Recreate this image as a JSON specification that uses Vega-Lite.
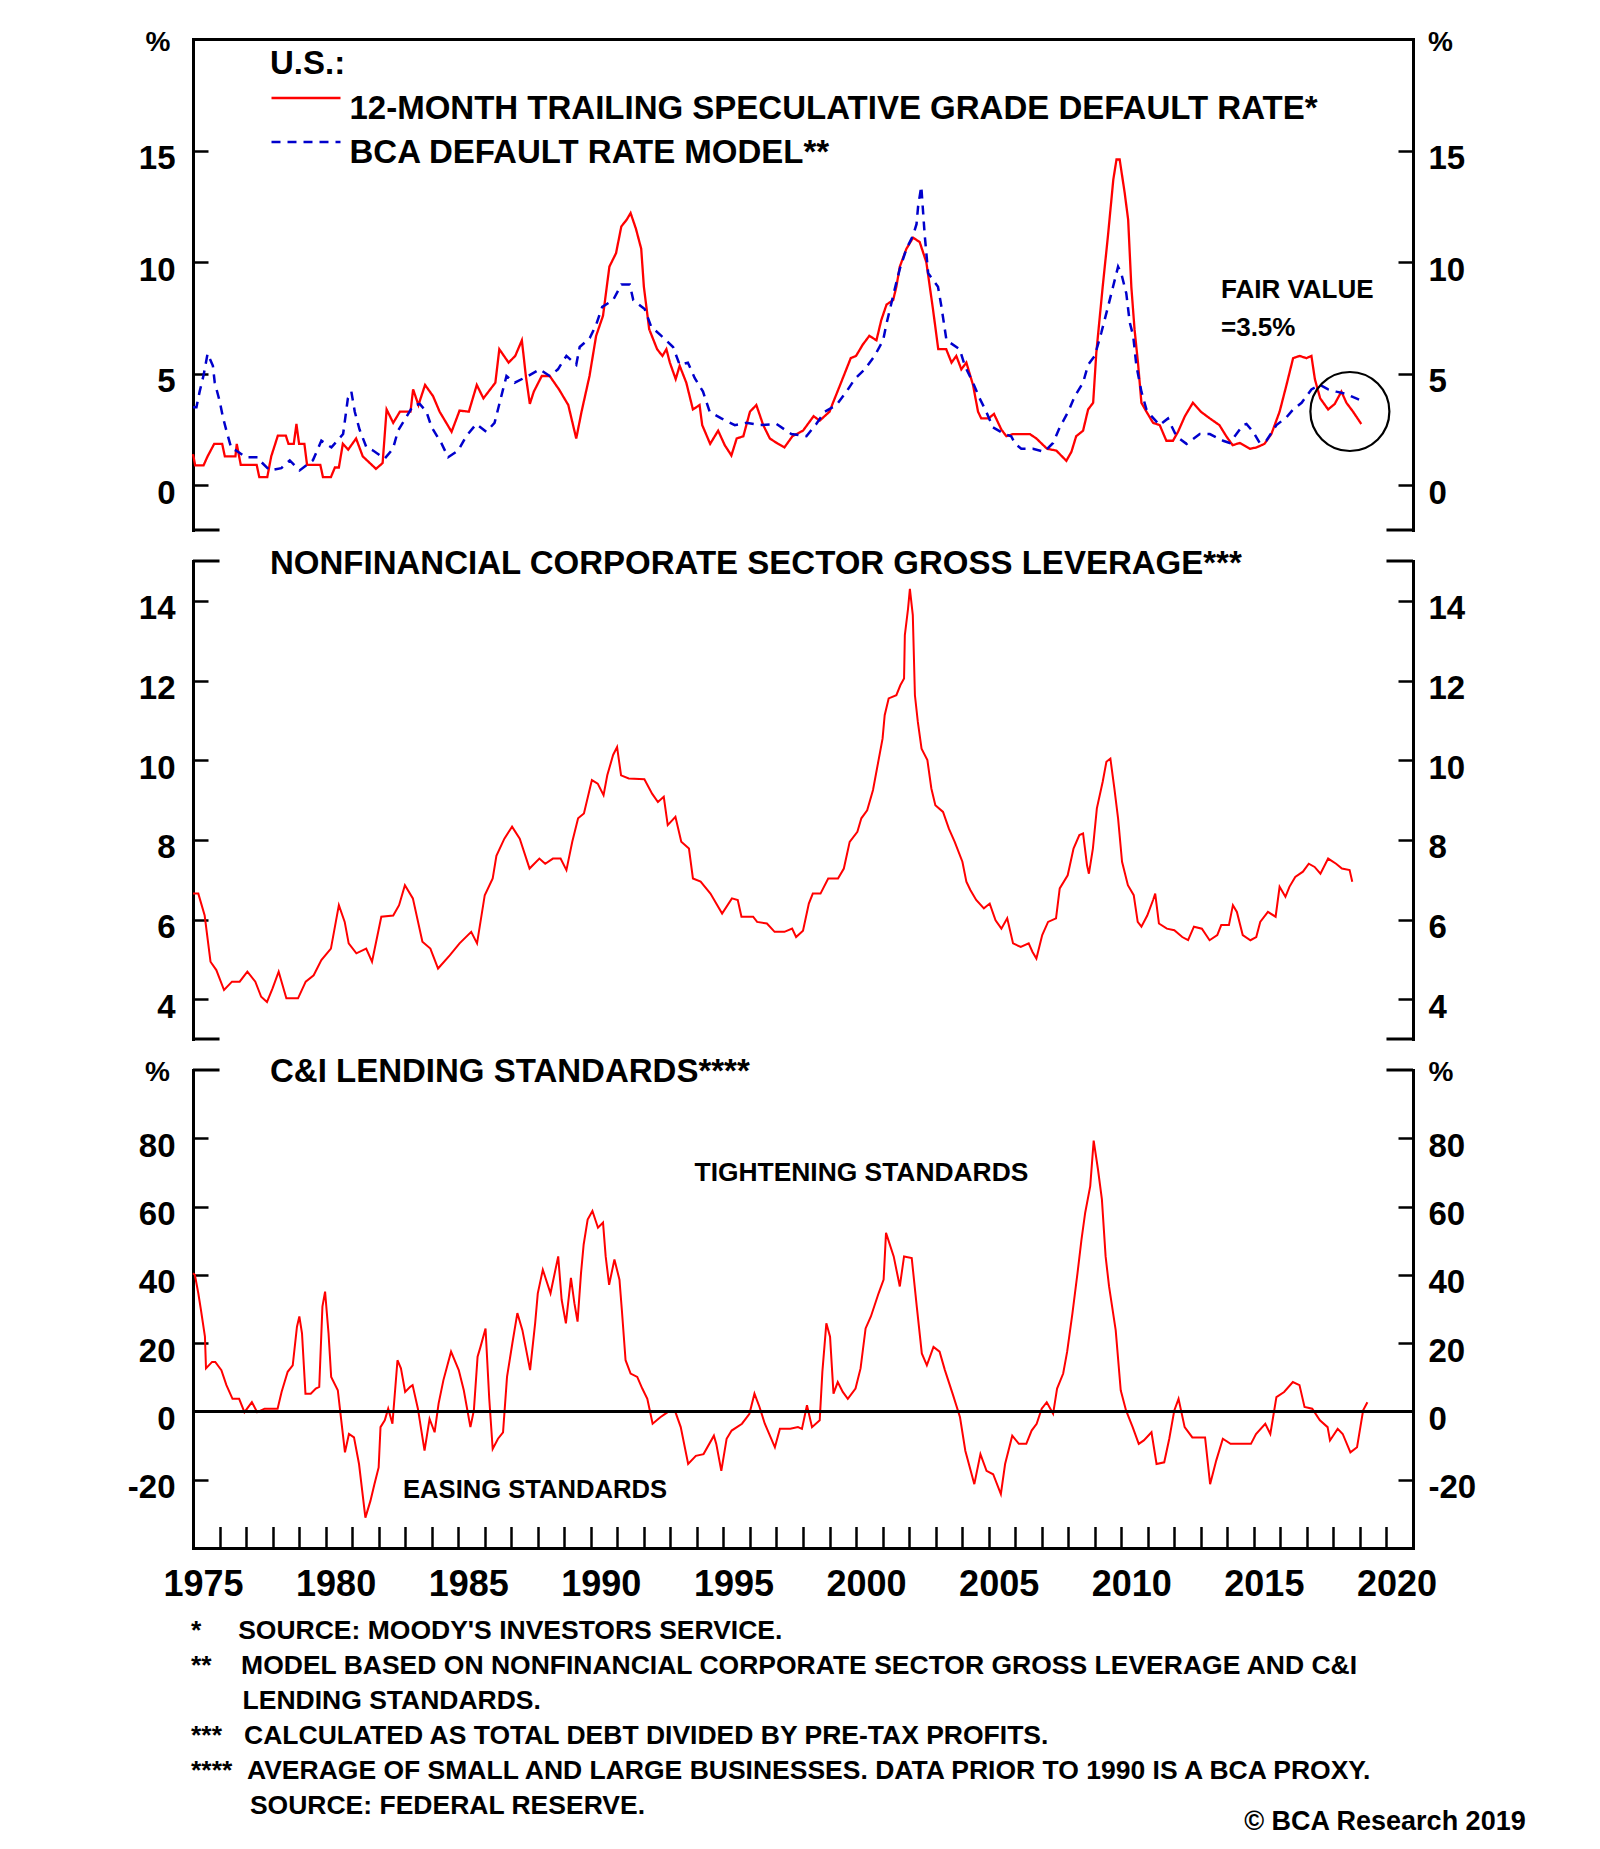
{
  "$schema": "https://vega.github.io/schema/vega-lite/v6.json",
  "background": "white",
  "padding": {"left": 127, "top": 28, "right": 10, "bottom": 5},
  "config": {
    "view": {"stroke": null},
    "font": "Liberation Sans",
    "axis": {"grid": false, "domainColor": "#000000", "tickColor": "#000000", "labelColor": "#000000", "titleColor": "#000000", "labelFont": "Liberation Sans", "titleFont": "Liberation Sans", "labelFontWeight": "bold", "titleFontWeight": "bold", "domainWidth": 3, "tickWidth": 2.5, "domainCap": "square"},
    "title": {"font": "Liberation Sans", "fontWeight": "bold", "color": "#000000"},
    "text": {"font": "Liberation Sans", "fontWeight": "bold", "color": "#000000"}
  },
  "datasets": {
    "rate": [
      {"t":1975.0,"v":1.4},{"t":1975.08,"v":0.9},{"t":1975.4,"v":0.9},{"t":1975.55,"v":1.3},{"t":1975.8,"v":1.86},{"t":1976.1,"v":1.86},{"t":1976.2,"v":1.3},{"t":1976.6,"v":1.3},{"t":1976.65,"v":1.86},{"t":1976.8,"v":0.92},{"t":1977.4,"v":0.92},{"t":1977.5,"v":0.37},{"t":1977.8,"v":0.37},{"t":1977.95,"v":1.3},{"t":1978.2,"v":2.23},{"t":1978.5,"v":2.23},{"t":1978.6,"v":1.86},{"t":1978.8,"v":1.86},{"t":1978.9,"v":2.75},{"t":1979.0,"v":1.86},{"t":1979.2,"v":1.86},{"t":1979.3,"v":0.92},{"t":1979.8,"v":0.92},{"t":1979.9,"v":0.37},{"t":1980.2,"v":0.37},{"t":1980.35,"v":0.8},{"t":1980.5,"v":0.8},{"t":1980.65,"v":1.86},{"t":1980.85,"v":1.6},{"t":1981.15,"v":2.1},{"t":1981.4,"v":1.3},{"t":1981.9,"v":0.74},{"t":1982.15,"v":1.0},{"t":1982.3,"v":3.4},{"t":1982.55,"v":2.8},{"t":1982.8,"v":3.3},{"t":1983.2,"v":3.3},{"t":1983.3,"v":4.3},{"t":1983.5,"v":3.6},{"t":1983.75,"v":4.5},{"t":1984.05,"v":4.0},{"t":1984.3,"v":3.3},{"t":1984.75,"v":2.4},{"t":1985.05,"v":3.35},{"t":1985.4,"v":3.3},{"t":1985.7,"v":4.5},{"t":1985.95,"v":3.9},{"t":1986.4,"v":4.6},{"t":1986.55,"v":6.1},{"t":1986.9,"v":5.5},{"t":1987.15,"v":5.8},{"t":1987.4,"v":6.5},{"t":1987.55,"v":4.9},{"t":1987.7,"v":3.65},{"t":1987.85,"v":4.2},{"t":1988.15,"v":4.9},{"t":1988.45,"v":4.9},{"t":1988.8,"v":4.3},{"t":1989.15,"v":3.6},{"t":1989.45,"v":2.1},{"t":1989.65,"v":3.3},{"t":1989.95,"v":4.9},{"t":1990.2,"v":6.7},{"t":1990.46,"v":7.6},{"t":1990.7,"v":9.8},{"t":1990.95,"v":10.4},{"t":1991.15,"v":11.6},{"t":1991.35,"v":11.9},{"t":1991.5,"v":12.2},{"t":1991.7,"v":11.5},{"t":1991.9,"v":10.6},{"t":1992.0,"v":8.9},{"t":1992.2,"v":7.0},{"t":1992.5,"v":6.1},{"t":1992.7,"v":5.8},{"t":1992.85,"v":6.1},{"t":1992.98,"v":5.5},{"t":1993.2,"v":4.76},{"t":1993.35,"v":5.36},{"t":1993.6,"v":4.6},{"t":1993.85,"v":3.4},{"t":1994.1,"v":3.6},{"t":1994.2,"v":2.7},{"t":1994.5,"v":1.86},{"t":1994.8,"v":2.45},{"t":1995.05,"v":1.8},{"t":1995.3,"v":1.34},{"t":1995.5,"v":2.1},{"t":1995.75,"v":2.2},{"t":1996.0,"v":3.3},{"t":1996.24,"v":3.6},{"t":1996.5,"v":2.7},{"t":1996.75,"v":2.1},{"t":1997.06,"v":1.86},{"t":1997.3,"v":1.7},{"t":1997.6,"v":2.2},{"t":1998.0,"v":2.45},{"t":1998.4,"v":3.1},{"t":1998.63,"v":2.9},{"t":1999.0,"v":3.3},{"t":1999.13,"v":3.7},{"t":1999.4,"v":4.5},{"t":1999.8,"v":5.7},{"t":2000.0,"v":5.8},{"t":2000.25,"v":6.3},{"t":2000.5,"v":6.7},{"t":2000.77,"v":6.5},{"t":2000.95,"v":7.4},{"t":2001.15,"v":8.1},{"t":2001.4,"v":8.3},{"t":2001.52,"v":8.9},{"t":2001.65,"v":9.8},{"t":2001.9,"v":10.6},{"t":2002.15,"v":11.1},{"t":2002.4,"v":10.9},{"t":2002.65,"v":10.0},{"t":2002.9,"v":7.9},{"t":2003.1,"v":6.1},{"t":2003.4,"v":6.1},{"t":2003.6,"v":5.5},{"t":2003.78,"v":5.8},{"t":2003.97,"v":5.2},{"t":2004.16,"v":5.5},{"t":2004.41,"v":4.5},{"t":2004.6,"v":3.3},{"t":2004.72,"v":3.0},{"t":2005.0,"v":3.0},{"t":2005.2,"v":3.2},{"t":2005.48,"v":2.5},{"t":2005.67,"v":2.2},{"t":2005.92,"v":2.3},{"t":2006.55,"v":2.3},{"t":2006.8,"v":2.1},{"t":2007.2,"v":1.64},{"t":2007.55,"v":1.56},{"t":2007.93,"v":1.1},{"t":2008.12,"v":1.5},{"t":2008.3,"v":2.2},{"t":2008.56,"v":2.45},{"t":2008.75,"v":3.4},{"t":2008.94,"v":3.7},{"t":2009.06,"v":5.95},{"t":2009.3,"v":8.9},{"t":2009.5,"v":11.2},{"t":2009.7,"v":13.7},{"t":2009.82,"v":14.6},{"t":2009.94,"v":14.6},{"t":2010.13,"v":13.1},{"t":2010.26,"v":11.9},{"t":2010.38,"v":8.9},{"t":2010.5,"v":7.0},{"t":2010.63,"v":5.5},{"t":2010.76,"v":3.7},{"t":2010.95,"v":3.3},{"t":2011.2,"v":2.8},{"t":2011.45,"v":2.7},{"t":2011.7,"v":2.0},{"t":2011.95,"v":2.0},{"t":2012.14,"v":2.4},{"t":2012.4,"v":3.1},{"t":2012.7,"v":3.7},{"t":2013.0,"v":3.3},{"t":2013.34,"v":3.0},{"t":2013.7,"v":2.7},{"t":2013.96,"v":2.2},{"t":2014.2,"v":1.8},{"t":2014.47,"v":1.9},{"t":2014.85,"v":1.64},{"t":2015.1,"v":1.7},{"t":2015.4,"v":1.86},{"t":2015.66,"v":2.3},{"t":2015.97,"v":3.3},{"t":2016.23,"v":4.5},{"t":2016.48,"v":5.7},{"t":2016.73,"v":5.8},{"t":2016.98,"v":5.7},{"t":2017.17,"v":5.8},{"t":2017.3,"v":4.76},{"t":2017.5,"v":3.9},{"t":2017.8,"v":3.4},{"t":2018.05,"v":3.65},{"t":2018.3,"v":4.2},{"t":2018.49,"v":3.7},{"t":2018.74,"v":3.3},{"t":2019.05,"v":2.75}
    ],
    "model": [
      {"t":1975.0,"v":3.5},{"t":1975.13,"v":3.5},{"t":1975.25,"v":4.2},{"t":1975.4,"v":4.94},{"t":1975.55,"v":5.9},{"t":1975.75,"v":5.36},{"t":1975.82,"v":4.6},{"t":1976.0,"v":3.8},{"t":1976.13,"v":3.05},{"t":1976.26,"v":2.45},{"t":1976.45,"v":1.64},{"t":1976.63,"v":1.56},{"t":1976.9,"v":1.34},{"t":1977.0,"v":1.26},{"t":1977.45,"v":1.26},{"t":1977.58,"v":1.04},{"t":1977.9,"v":0.67},{"t":1978.33,"v":0.77},{"t":1978.65,"v":1.12},{"t":1979.02,"v":0.67},{"t":1979.52,"v":1.12},{"t":1979.84,"v":2.0},{"t":1980.22,"v":1.7},{"t":1980.66,"v":2.3},{"t":1980.84,"v":3.9},{"t":1980.97,"v":4.2},{"t":1981.1,"v":3.3},{"t":1981.28,"v":2.5},{"t":1981.54,"v":1.7},{"t":1981.79,"v":1.56},{"t":1982.23,"v":1.2},{"t":1982.54,"v":1.64},{"t":1982.73,"v":2.45},{"t":1983.04,"v":3.05},{"t":1983.3,"v":3.57},{"t":1983.55,"v":3.65},{"t":1983.8,"v":3.3},{"t":1984.0,"v":2.6},{"t":1984.36,"v":1.9},{"t":1984.62,"v":1.26},{"t":1985.0,"v":1.56},{"t":1985.3,"v":2.2},{"t":1985.68,"v":2.75},{"t":1986.06,"v":2.4},{"t":1986.37,"v":2.8},{"t":1986.69,"v":4.3},{"t":1986.82,"v":4.9},{"t":1987.13,"v":4.6},{"t":1987.63,"v":4.9},{"t":1988.07,"v":5.2},{"t":1988.45,"v":4.9},{"t":1988.76,"v":5.2},{"t":1989.08,"v":5.8},{"t":1989.45,"v":5.4},{"t":1989.58,"v":6.2},{"t":1989.96,"v":6.6},{"t":1990.2,"v":7.2},{"t":1990.43,"v":8.0},{"t":1990.84,"v":8.3},{"t":1991.15,"v":9.0},{"t":1991.47,"v":9.0},{"t":1991.6,"v":8.3},{"t":1992.03,"v":7.9},{"t":1992.28,"v":7.1},{"t":1992.66,"v":6.7},{"t":1993.1,"v":6.2},{"t":1993.35,"v":5.4},{"t":1993.66,"v":5.5},{"t":1993.92,"v":4.8},{"t":1994.23,"v":4.2},{"t":1994.48,"v":3.3},{"t":1994.92,"v":3.0},{"t":1995.43,"v":2.7},{"t":1995.86,"v":2.8},{"t":1996.37,"v":2.7},{"t":1997.0,"v":2.75},{"t":1997.56,"v":2.3},{"t":1998.13,"v":2.2},{"t":1998.5,"v":2.75},{"t":1998.82,"v":3.3},{"t":1999.26,"v":3.6},{"t":1999.64,"v":4.2},{"t":1999.95,"v":4.76},{"t":2000.33,"v":5.2},{"t":2000.7,"v":5.8},{"t":2001.02,"v":6.5},{"t":2001.14,"v":7.2},{"t":2001.46,"v":8.8},{"t":2001.65,"v":9.7},{"t":2001.9,"v":10.6},{"t":2002.15,"v":11.2},{"t":2002.28,"v":11.7},{"t":2002.34,"v":12.5},{"t":2002.46,"v":13.4},{"t":2002.59,"v":11.2},{"t":2002.72,"v":9.5},{"t":2003.09,"v":8.9},{"t":2003.22,"v":8.0},{"t":2003.41,"v":6.5},{"t":2003.91,"v":6.1},{"t":2004.1,"v":5.36},{"t":2004.41,"v":4.6},{"t":2004.66,"v":3.9},{"t":2004.91,"v":3.3},{"t":2005.16,"v":2.6},{"t":2005.6,"v":2.3},{"t":2005.85,"v":2.2},{"t":2006.0,"v":1.86},{"t":2006.23,"v":1.64},{"t":2006.67,"v":1.64},{"t":2007.1,"v":1.5},{"t":2007.43,"v":1.9},{"t":2007.68,"v":2.6},{"t":2008.0,"v":3.3},{"t":2008.25,"v":4.0},{"t":2008.56,"v":4.6},{"t":2008.75,"v":5.4},{"t":2009.0,"v":5.8},{"t":2009.25,"v":6.85},{"t":2009.5,"v":8.0},{"t":2009.69,"v":8.9},{"t":2009.88,"v":9.8},{"t":2010.0,"v":9.5},{"t":2010.19,"v":8.6},{"t":2010.32,"v":7.3},{"t":2010.45,"v":6.7},{"t":2010.57,"v":5.36},{"t":2010.76,"v":4.2},{"t":2010.95,"v":3.4},{"t":2011.14,"v":3.1},{"t":2011.45,"v":2.7},{"t":2011.76,"v":3.0},{"t":2012.08,"v":2.2},{"t":2012.46,"v":1.86},{"t":2012.96,"v":2.3},{"t":2013.34,"v":2.3},{"t":2013.84,"v":2.0},{"t":2014.09,"v":1.9},{"t":2014.59,"v":2.7},{"t":2014.72,"v":2.75},{"t":2014.97,"v":2.4},{"t":2015.22,"v":1.9},{"t":2015.47,"v":2.0},{"t":2015.85,"v":2.7},{"t":2016.23,"v":3.05},{"t":2016.48,"v":3.4},{"t":2016.8,"v":3.7},{"t":2017.17,"v":4.3},{"t":2017.5,"v":4.5},{"t":2017.8,"v":4.3},{"t":2018.11,"v":4.2},{"t":2018.49,"v":4.1},{"t":2018.75,"v":3.95},{"t":2019.05,"v":3.8}
    ],
    "lev": [
      {"t":1975.0,"v":6.65},{"t":1975.2,"v":6.65},{"t":1975.44,"v":6.1},{"t":1975.66,"v":4.94},{"t":1975.88,"v":4.73},{"t":1976.17,"v":4.23},{"t":1976.47,"v":4.44},{"t":1976.76,"v":4.44},{"t":1977.05,"v":4.69},{"t":1977.35,"v":4.44},{"t":1977.57,"v":4.06},{"t":1977.79,"v":3.93},{"t":1978.0,"v":4.27},{"t":1978.23,"v":4.69},{"t":1978.52,"v":4.02},{"t":1978.96,"v":4.02},{"t":1979.25,"v":4.44},{"t":1979.55,"v":4.6},{"t":1979.84,"v":4.98},{"t":1980.2,"v":5.27},{"t":1980.5,"v":6.36},{"t":1980.72,"v":5.94},{"t":1980.87,"v":5.4},{"t":1981.16,"v":5.15},{"t":1981.53,"v":5.27},{"t":1981.75,"v":4.94},{"t":1982.1,"v":6.07},{"t":1982.55,"v":6.1},{"t":1982.77,"v":6.36},{"t":1982.99,"v":6.86},{"t":1983.29,"v":6.53},{"t":1983.65,"v":5.44},{"t":1983.95,"v":5.27},{"t":1984.24,"v":4.77},{"t":1984.68,"v":5.1},{"t":1985.05,"v":5.4},{"t":1985.49,"v":5.69},{"t":1985.71,"v":5.4},{"t":1986.0,"v":6.61},{"t":1986.3,"v":7.03},{"t":1986.44,"v":7.6},{"t":1986.74,"v":8.03},{"t":1987.03,"v":8.33},{"t":1987.32,"v":8.03},{"t":1987.69,"v":7.28},{"t":1988.06,"v":7.53},{"t":1988.28,"v":7.4},{"t":1988.57,"v":7.53},{"t":1988.86,"v":7.53},{"t":1989.08,"v":7.24},{"t":1989.3,"v":7.95},{"t":1989.52,"v":8.54},{"t":1989.74,"v":8.66},{"t":1990.04,"v":9.5},{"t":1990.26,"v":9.41},{"t":1990.48,"v":9.12},{"t":1990.62,"v":9.62},{"t":1990.84,"v":10.13},{"t":1990.99,"v":10.33},{"t":1991.14,"v":9.62},{"t":1991.43,"v":9.54},{"t":1992.02,"v":9.52},{"t":1992.31,"v":9.16},{"t":1992.53,"v":8.95},{"t":1992.75,"v":9.08},{"t":1992.9,"v":8.37},{"t":1993.19,"v":8.58},{"t":1993.41,"v":7.95},{"t":1993.7,"v":7.78},{"t":1993.85,"v":7.03},{"t":1994.14,"v":6.95},{"t":1994.51,"v":6.65},{"t":1994.95,"v":6.15},{"t":1995.32,"v":6.53},{"t":1995.54,"v":6.49},{"t":1995.68,"v":6.07},{"t":1996.12,"v":6.07},{"t":1996.27,"v":5.94},{"t":1996.64,"v":5.9},{"t":1996.93,"v":5.69},{"t":1997.3,"v":5.69},{"t":1997.59,"v":5.77},{"t":1997.74,"v":5.56},{"t":1998.0,"v":5.72},{"t":1998.22,"v":6.4},{"t":1998.37,"v":6.65},{"t":1998.66,"v":6.65},{"t":1998.95,"v":7.03},{"t":1999.32,"v":7.03},{"t":1999.54,"v":7.28},{"t":1999.76,"v":7.95},{"t":2000.05,"v":8.2},{"t":2000.2,"v":8.54},{"t":2000.42,"v":8.74},{"t":2000.64,"v":9.25},{"t":2000.79,"v":9.79},{"t":2001.0,"v":10.54},{"t":2001.08,"v":11.13},{"t":2001.23,"v":11.55},{"t":2001.52,"v":11.63},{"t":2001.67,"v":11.88},{"t":2001.81,"v":12.05},{"t":2001.84,"v":13.14},{"t":2001.96,"v":13.8},{"t":2002.03,"v":14.3},{"t":2002.14,"v":13.64},{"t":2002.22,"v":11.63},{"t":2002.33,"v":10.96},{"t":2002.47,"v":10.29},{"t":2002.69,"v":10.0},{"t":2002.84,"v":9.29},{"t":2002.99,"v":8.87},{"t":2003.28,"v":8.7},{"t":2003.5,"v":8.28},{"t":2003.72,"v":7.95},{"t":2004.01,"v":7.45},{"t":2004.16,"v":6.95},{"t":2004.31,"v":6.74},{"t":2004.53,"v":6.49},{"t":2004.82,"v":6.28},{"t":2005.04,"v":6.4},{"t":2005.26,"v":5.98},{"t":2005.48,"v":5.77},{"t":2005.7,"v":6.03},{"t":2005.92,"v":5.4},{"t":2006.21,"v":5.31},{"t":2006.51,"v":5.4},{"t":2006.65,"v":5.19},{"t":2006.8,"v":5.02},{"t":2007.02,"v":5.61},{"t":2007.24,"v":5.94},{"t":2007.54,"v":6.03},{"t":2007.68,"v":6.78},{"t":2007.98,"v":7.11},{"t":2008.2,"v":7.78},{"t":2008.42,"v":8.12},{"t":2008.56,"v":8.16},{"t":2008.71,"v":7.36},{"t":2008.78,"v":7.15},{"t":2008.93,"v":7.78},{"t":2009.08,"v":8.79},{"t":2009.3,"v":9.46},{"t":2009.44,"v":9.96},{"t":2009.59,"v":10.04},{"t":2009.74,"v":9.29},{"t":2009.88,"v":8.54},{"t":2010.03,"v":7.45},{"t":2010.25,"v":6.86},{"t":2010.47,"v":6.61},{"t":2010.62,"v":5.94},{"t":2010.76,"v":5.82},{"t":2010.98,"v":6.1},{"t":2011.2,"v":6.49},{"t":2011.28,"v":6.65},{"t":2011.42,"v":5.9},{"t":2011.72,"v":5.77},{"t":2012.0,"v":5.73},{"t":2012.3,"v":5.56},{"t":2012.52,"v":5.48},{"t":2012.74,"v":5.82},{"t":2013.04,"v":5.77},{"t":2013.33,"v":5.48},{"t":2013.62,"v":5.61},{"t":2013.77,"v":5.86},{"t":2014.06,"v":5.86},{"t":2014.21,"v":6.36},{"t":2014.36,"v":6.19},{"t":2014.58,"v":5.61},{"t":2014.87,"v":5.48},{"t":2015.09,"v":5.56},{"t":2015.24,"v":5.94},{"t":2015.53,"v":6.19},{"t":2015.82,"v":6.07},{"t":2015.97,"v":6.82},{"t":2016.19,"v":6.57},{"t":2016.34,"v":6.82},{"t":2016.56,"v":7.07},{"t":2016.85,"v":7.2},{"t":2017.07,"v":7.4},{"t":2017.29,"v":7.32},{"t":2017.51,"v":7.15},{"t":2017.8,"v":7.53},{"t":2018.1,"v":7.4},{"t":2018.32,"v":7.28},{"t":2018.61,"v":7.24},{"t":2018.71,"v":6.95}
    ],
    "ci": [
      {"t":1975.0,"v":40.5},{"t":1975.07,"v":40.0},{"t":1975.2,"v":34.6},{"t":1975.3,"v":29.7},{"t":1975.45,"v":21.9},{"t":1975.49,"v":12.6},{"t":1975.72,"v":14.5},{"t":1975.84,"v":14.5},{"t":1976.07,"v":12.1},{"t":1976.26,"v":7.7},{"t":1976.49,"v":3.7},{"t":1976.74,"v":3.7},{"t":1976.94,"v":-0.2},{"t":1977.22,"v":2.7},{"t":1977.42,"v":-0.2},{"t":1977.7,"v":0.8},{"t":1978.19,"v":0.8},{"t":1978.34,"v":5.7},{"t":1978.57,"v":11.6},{"t":1978.76,"v":13.5},{"t":1978.92,"v":24.8},{"t":1979.01,"v":27.8},{"t":1979.11,"v":22.9},{"t":1979.24,"v":5.2},{"t":1979.44,"v":5.2},{"t":1979.63,"v":6.7},{"t":1979.76,"v":7.2},{"t":1979.88,"v":30.7},{"t":1979.98,"v":35.1},{"t":1980.11,"v":22.9},{"t":1980.21,"v":10.1},{"t":1980.46,"v":6.2},{"t":1980.59,"v":-2.6},{"t":1980.73,"v":-12.0},{"t":1980.88,"v":-6.6},{"t":1981.07,"v":-7.6},{"t":1981.26,"v":-15.4},{"t":1981.5,"v":-31.1},{"t":1981.69,"v":-26.2},{"t":1981.84,"v":-21.3},{"t":1982.0,"v":-16.4},{"t":1982.07,"v":-4.6},{"t":1982.23,"v":-2.6},{"t":1982.36,"v":0.8},{"t":1982.52,"v":-3.6},{"t":1982.71,"v":15.0},{"t":1982.84,"v":12.6},{"t":1983.0,"v":5.7},{"t":1983.19,"v":7.2},{"t":1983.28,"v":7.7},{"t":1983.48,"v":0.8},{"t":1983.73,"v":-11.5},{"t":1983.92,"v":-2.2},{"t":1984.11,"v":-6.1},{"t":1984.26,"v":2.3},{"t":1984.44,"v":9.1},{"t":1984.73,"v":17.5},{"t":1985.02,"v":12.1},{"t":1985.21,"v":6.2},{"t":1985.46,"v":-4.6},{"t":1985.59,"v":0.3},{"t":1985.73,"v":16.0},{"t":1985.84,"v":18.9},{"t":1986.03,"v":24.3},{"t":1986.17,"v":3.7},{"t":1986.3,"v":-11.0},{"t":1986.5,"v":-8.0},{"t":1986.69,"v":-6.1},{"t":1986.84,"v":10.1},{"t":1987.04,"v":19.9},{"t":1987.23,"v":28.8},{"t":1987.42,"v":23.8},{"t":1987.71,"v":12.1},{"t":1987.9,"v":25.8},{"t":1988.0,"v":34.6},{"t":1988.19,"v":41.5},{"t":1988.48,"v":34.6},{"t":1988.77,"v":45.4},{"t":1988.9,"v":32.7},{"t":1989.06,"v":25.8},{"t":1989.25,"v":39.1},{"t":1989.38,"v":31.7},{"t":1989.5,"v":26.3},{"t":1989.63,"v":40.5},{"t":1989.73,"v":48.9},{"t":1989.88,"v":56.2},{"t":1990.06,"v":58.7},{"t":1990.27,"v":53.8},{"t":1990.46,"v":55.3},{"t":1990.56,"v":45.4},{"t":1990.69,"v":37.1},{"t":1990.89,"v":44.5},{"t":1991.08,"v":38.6},{"t":1991.17,"v":29.7},{"t":1991.31,"v":15.0},{"t":1991.5,"v":11.1},{"t":1991.75,"v":10.1},{"t":1991.94,"v":6.7},{"t":1992.13,"v":3.7},{"t":1992.33,"v":-3.6},{"t":1992.62,"v":-1.7},{"t":1992.9,"v":-0.2},{"t":1993.19,"v":-0.2},{"t":1993.39,"v":-4.6},{"t":1993.67,"v":-15.4},{"t":1993.96,"v":-13.0},{"t":1994.25,"v":-12.5},{"t":1994.64,"v":-7.1},{"t":1994.73,"v":-9.5},{"t":1994.92,"v":-17.4},{"t":1995.12,"v":-8.0},{"t":1995.31,"v":-5.6},{"t":1995.7,"v":-3.6},{"t":1995.98,"v":-0.7},{"t":1996.17,"v":5.2},{"t":1996.36,"v":1.3},{"t":1996.56,"v":-3.6},{"t":1996.94,"v":-10.5},{"t":1997.13,"v":-5.1},{"t":1997.52,"v":-5.1},{"t":1997.81,"v":-4.6},{"t":1997.96,"v":-5.1},{"t":1998.15,"v":1.8},{"t":1998.34,"v":-4.6},{"t":1998.63,"v":-2.6},{"t":1998.73,"v":11.6},{"t":1998.88,"v":25.8},{"t":1999.02,"v":21.9},{"t":1999.15,"v":5.2},{"t":1999.31,"v":8.6},{"t":1999.5,"v":5.7},{"t":1999.69,"v":3.7},{"t":1999.98,"v":6.7},{"t":2000.17,"v":12.6},{"t":2000.36,"v":24.3},{"t":2000.56,"v":27.8},{"t":2000.85,"v":34.6},{"t":2001.04,"v":38.6},{"t":2001.13,"v":52.3},{"t":2001.42,"v":45.4},{"t":2001.65,"v":36.6},{"t":2001.81,"v":45.4},{"t":2002.1,"v":44.9},{"t":2002.29,"v":30.7},{"t":2002.48,"v":17.0},{"t":2002.67,"v":13.5},{"t":2002.92,"v":18.9},{"t":2003.15,"v":17.5},{"t":2003.35,"v":12.1},{"t":2003.64,"v":5.2},{"t":2003.92,"v":-1.7},{"t":2004.12,"v":-11.5},{"t":2004.46,"v":-21.3},{"t":2004.69,"v":-12.5},{"t":2004.92,"v":-17.4},{"t":2005.17,"v":-18.4},{"t":2005.46,"v":-24.2},{"t":2005.62,"v":-15.4},{"t":2005.89,"v":-7.1},{"t":2006.14,"v":-9.5},{"t":2006.42,"v":-9.5},{"t":2006.62,"v":-5.6},{"t":2006.81,"v":-3.6},{"t":2007.0,"v":0.8},{"t":2007.19,"v":2.7},{"t":2007.43,"v":-0.7},{"t":2007.58,"v":6.7},{"t":2007.81,"v":11.1},{"t":2007.96,"v":17.5},{"t":2008.16,"v":28.8},{"t":2008.35,"v":40.5},{"t":2008.5,"v":50.3},{"t":2008.64,"v":58.2},{"t":2008.83,"v":66.0},{"t":2008.96,"v":79.3},{"t":2009.12,"v":71.0},{"t":2009.27,"v":62.1},{"t":2009.41,"v":45.4},{"t":2009.54,"v":36.6},{"t":2009.79,"v":23.8},{"t":2009.98,"v":6.2},{"t":2010.18,"v":0.3},{"t":2010.43,"v":-4.6},{"t":2010.66,"v":-9.5},{"t":2010.85,"v":-8.5},{"t":2011.14,"v":-6.1},{"t":2011.33,"v":-15.4},{"t":2011.62,"v":-14.9},{"t":2011.81,"v":-8.0},{"t":2012.0,"v":0.3},{"t":2012.16,"v":3.7},{"t":2012.39,"v":-4.6},{"t":2012.68,"v":-7.6},{"t":2013.16,"v":-7.6},{"t":2013.35,"v":-21.3},{"t":2013.58,"v":-14.4},{"t":2013.83,"v":-8.0},{"t":2014.12,"v":-9.5},{"t":2014.89,"v":-9.5},{"t":2015.08,"v":-6.6},{"t":2015.43,"v":-3.6},{"t":2015.62,"v":-6.6},{"t":2015.85,"v":4.2},{"t":2016.14,"v":5.7},{"t":2016.47,"v":8.6},{"t":2016.72,"v":7.7},{"t":2016.91,"v":1.3},{"t":2017.2,"v":0.8},{"t":2017.49,"v":-2.6},{"t":2017.78,"v":-4.6},{"t":2017.87,"v":-8.5},{"t":2018.16,"v":-5.1},{"t":2018.35,"v":-6.6},{"t":2018.64,"v":-12.0},{"t":2018.89,"v":-10.5},{"t":2019.12,"v":0.3},{"t":2019.28,"v":2.7}
    ]
  },
  "title": {"text": "© BCA Research 2019", "orient": "bottom", "anchor": "end", "frame": "bounds", "offset": -10.5, "dx": 50, "fontSize": 27, "fontWeight": "bold", "baseline": "top"},
  "spacing": 31,
  "bounds": "flush",
  "resolve": {"scale": {"x": "independent", "y": "independent", "color": "independent", "strokeDash": "independent"}, "axis": {"x": "independent", "y": "independent"}},
  "vconcat": [
    {
      "width": 1220,
      "height": 491,
      "title": {"text": "NONFINANCIAL CORPORATE SECTOR GROSS LEVERAGE***", "orient": "bottom", "anchor": "start", "frame": "group", "dx": 77, "offset": 32.8, "baseline": "middle", "fontSize": 33},
      "resolve": {"axis": {"y": "independent"}},
      "layer": [
        {
          "data": {"name": "rate"},
          "mark": {"type": "line", "strokeWidth": 2.3},
          "encoding": {
            "x": {"field": "t", "type": "quantitative", "scale": {"domain": [1975, 2021], "nice": false, "zero": false}, "axis": {"orient": "top", "domain": true, "ticks": false, "labels": false, "title": null}},
            "y": {"field": "v", "type": "quantitative", "scale": {"domain": [-2, 20], "nice": false, "zero": false}, "axis": {"orient": "left", "values": [0, 5, 10, 15], "tickSize": -15, "labelPadding": 33, "labelOffset": 8, "labelFontSize": 33, "labelExpr": "'' + datum.value", "title": "%", "titleAngle": 0, "titleX": -35.5, "titleY": 3, "titleAlign": "center", "titleBaseline": "middle", "titleFontSize": 28}},
            "color": {"datum": "12-MONTH TRAILING SPECULATIVE GRADE DEFAULT RATE*", "type": "nominal", "scale": {"domain": ["12-MONTH TRAILING SPECULATIVE GRADE DEFAULT RATE*", "BCA DEFAULT RATE MODEL**"], "range": ["#ff0000", "#0000cc"]}, "legend": {"title": "U.S.:", "orient": "none", "legendX": 77, "legendY": 8.5, "direction": "vertical", "padding": 0, "titleFontSize": 33, "titleFontWeight": "bold", "titleFont": "Liberation Sans", "titleColor": "#000000", "titlePadding": 6.5, "labelFontSize": 33, "labelFontWeight": "bold", "labelFont": "Liberation Sans", "labelColor": "#000000", "labelLimit": 2000, "labelBaseline": "middle", "labelOffset": 7.5, "symbolType": "M-1,-0.31H1", "symbolSize": 4761, "symbolStrokeWidth": 2.5, "clipHeight": 43.5, "rowPadding": 0}},
            "strokeDash": {"datum": "12-MONTH TRAILING SPECULATIVE GRADE DEFAULT RATE*", "type": "nominal", "scale": {"domain": ["12-MONTH TRAILING SPECULATIVE GRADE DEFAULT RATE*", "BCA DEFAULT RATE MODEL**"], "range": [[1, 0], [9, 7]]}, "legend": {"title": "U.S.:", "orient": "none", "legendX": 77, "legendY": 8.5, "direction": "vertical", "padding": 0, "titleFontSize": 33, "titleFontWeight": "bold", "titleFont": "Liberation Sans", "titleColor": "#000000", "titlePadding": 6.5, "labelFontSize": 33, "labelFontWeight": "bold", "labelFont": "Liberation Sans", "labelColor": "#000000", "labelLimit": 2000, "labelBaseline": "middle", "labelOffset": 7.5, "symbolType": "M-1,-0.31H1", "symbolSize": 4761, "symbolStrokeWidth": 2.5, "clipHeight": 43.5, "rowPadding": 0}}
          }
        },
        {
          "data": {"name": "model"},
          "mark": {"type": "line", "strokeWidth": 2.5},
          "encoding": {
            "x": {"field": "t", "type": "quantitative", "scale": {"domain": [1975, 2021], "nice": false, "zero": false}, "axis": {"orient": "top", "domain": true, "ticks": false, "labels": false, "title": null}},
            "y": {"field": "v", "type": "quantitative", "scale": {"domain": [-2, 20], "nice": false, "zero": false}, "axis": null},
            "color": {"datum": "BCA DEFAULT RATE MODEL**", "type": "nominal"},
            "strokeDash": {"datum": "BCA DEFAULT RATE MODEL**", "type": "nominal"}
          }
        },
        {
          "data": {"values": [{}]},
          "mark": {"type": "rule", "strokeWidth": 3, "color": "#000000"},
          "encoding": {
            "x": {"datum": 1975, "type": "quantitative", "axis": {"orient": "top", "domain": true, "ticks": false, "labels": false, "title": null}},
            "x2": {"datum": 1976},
            "y": {"datum": -2, "type": "quantitative", "axis": null}
          }
        },
        {
          "data": {"values": [{}]},
          "mark": {"type": "rule", "strokeWidth": 3, "color": "#000000"},
          "encoding": {
            "x": {"datum": 2020, "type": "quantitative", "axis": {"orient": "top", "domain": true, "ticks": false, "labels": false, "title": null}},
            "x2": {"datum": 2021},
            "y": {"datum": -2, "type": "quantitative", "axis": {"orient": "right", "values": [0, 5, 10, 15], "tickSize": -15, "labelPadding": 30, "labelOffset": 8, "labelFontSize": 33, "labelExpr": "'' + datum.value", "title": "%", "titleAngle": 0, "titleX": 27, "titleY": 3, "titleAlign": "center", "titleBaseline": "middle", "titleFontSize": 28}}
          }
        },
        {
          "data": {"values": [{}]},
          "mark": {"type": "text", "text": ["FAIR VALUE", "=3.5%"], "align": "left", "baseline": "top", "fontSize": 26, "fontWeight": "bold", "lineHeight": 38.4},
          "encoding": {
            "x": {"datum": 2013.76, "type": "quantitative", "axis": {"orient": "top", "domain": true, "ticks": false, "labels": false, "title": null}},
            "y": {"datum": 9.354, "type": "quantitative", "axis": null}
          }
        },
        {
          "data": {"values": [{}]},
          "mark": {"type": "point", "shape": "circle", "filled": false, "size": 6241, "stroke": "#000000", "strokeWidth": 2.2, "opacity": 1},
          "encoding": {
            "x": {"datum": 2018.62, "type": "quantitative", "axis": {"orient": "top", "domain": true, "ticks": false, "labels": false, "title": null}},
            "y": {"datum": 3.31, "type": "quantitative", "axis": null}
          }
        }
      ]
    },
    {
      "width": 1220,
      "height": 478,
      "title": {"text": "C&I LENDING STANDARDS****", "orient": "bottom", "anchor": "start", "frame": "group", "dx": 77, "offset": 31.3, "baseline": "middle", "fontSize": 33},
      "resolve": {"axis": {"y": "independent"}},
      "layer": [
        {
          "data": {"name": "lev"},
          "mark": {"type": "line", "strokeWidth": 2, "color": "#ff0000"},
          "encoding": {
            "x": {"field": "t", "type": "quantitative", "scale": {"domain": [1975, 2021], "nice": false, "zero": false}, "axis": null},
            "y": {"field": "v", "type": "quantitative", "scale": {"domain": [3, 15], "nice": false, "zero": false}, "axis": {"orient": "left", "values": [4, 6, 8, 10, 12, 14], "tickSize": -15, "labelPadding": 33, "labelOffset": 8, "labelFontSize": 33, "labelExpr": "'' + datum.value", "title": null}}
          }
        },
        {
          "data": {"values": [{}]},
          "mark": {"type": "rule", "strokeWidth": 3, "color": "#000000"},
          "encoding": {"x": {"datum": 1975, "type": "quantitative", "axis": null}, "x2": {"datum": 1976}, "y": {"datum": 15, "type": "quantitative", "axis": null}}
        },
        {
          "data": {"values": [{}]},
          "mark": {"type": "rule", "strokeWidth": 3, "color": "#000000"},
          "encoding": {"x": {"datum": 2020, "type": "quantitative", "axis": null}, "x2": {"datum": 2021}, "y": {"datum": 15, "type": "quantitative", "axis": {"orient": "right", "values": [4, 6, 8, 10, 12, 14], "tickSize": -15, "labelPadding": 30, "labelOffset": 8, "labelFontSize": 33, "labelExpr": "'' + datum.value", "title": null}}}
        },
        {
          "data": {"values": [{}]},
          "mark": {"type": "rule", "strokeWidth": 3, "color": "#000000"},
          "encoding": {"x": {"datum": 1975, "type": "quantitative", "axis": null}, "x2": {"datum": 1976}, "y": {"datum": 3, "type": "quantitative", "axis": null}}
        },
        {
          "data": {"values": [{}]},
          "mark": {"type": "rule", "strokeWidth": 3, "color": "#000000"},
          "encoding": {"x": {"datum": 2020, "type": "quantitative", "axis": null}, "x2": {"datum": 2021}, "y": {"datum": 3, "type": "quantitative", "axis": null}}
        }
      ]
    },
    {
      "width": 1220,
      "height": 478,
      "title": {"text": ["*\u00a0\u00a0\u00a0\u00a0\u00a0SOURCE: MOODY'S INVESTORS SERVICE.", "**\u00a0\u00a0\u00a0\u00a0MODEL BASED ON NONFINANCIAL CORPORATE SECTOR GROSS LEVERAGE AND C&I", "\u200b\u00a0\u00a0\u00a0\u00a0\u00a0\u00a0\u00a0LENDING STANDARDS.", "***\u00a0\u00a0\u00a0CALCULATED AS TOTAL DEBT DIVIDED BY PRE-TAX PROFITS.", "****\u00a0\u00a0AVERAGE OF SMALL AND LARGE BUSINESSES. DATA PRIOR TO 1990 IS A BCA PROXY.", "\u200b\u00a0\u00a0\u00a0\u00a0\u00a0\u00a0\u00a0\u00a0SOURCE: FEDERAL RESERVE."], "orient": "bottom", "anchor": "start", "frame": "group", "dx": -2, "offset": 15.7, "baseline": "top", "align": "left", "fontSize": 26.5, "fontWeight": "bold", "lineHeight": 35},
      "resolve": {"axis": {"y": "independent"}},
      "layer": [
        {
          "data": {"name": "ci"},
          "mark": {"type": "line", "strokeWidth": 2, "color": "#ff0000"},
          "encoding": {
            "x": {"field": "t", "type": "quantitative", "scale": {"domain": [1975, 2021], "nice": false, "zero": false}, "axis": {"orient": "bottom", "values": [1975,1976,1977,1978,1979,1980,1981,1982,1983,1984,1985,1986,1987,1988,1989,1990,1991,1992,1993,1994,1995,1996,1997,1998,1999,2000,2001,2002,2003,2004,2005,2006,2007,2008,2009,2010,2011,2012,2013,2014,2015,2016,2017,2018,2019,2020], "tickCount": 200, "tickSize": -21.5, "labelPadding": 41, "labelOffset": 10, "labelFlush": false, "labelOverlap": false, "labelFontSize": 36, "labelExpr": "datum.value % 5 === 0 ? '' + datum.value : ''", "title": null}},
            "y": {"field": "v", "type": "quantitative", "scale": {"domain": [-40, 100], "nice": false, "zero": false}, "axis": {"orient": "left", "values": [-20, 0, 20, 40, 60, 80], "tickSize": -15, "labelPadding": 33, "labelOffset": 8, "labelFontSize": 33, "labelExpr": "'' + datum.value", "title": "%", "titleAngle": 0, "titleX": -36, "titleY": 2, "titleAlign": "center", "titleBaseline": "middle", "titleFontSize": 28}}
          }
        },
        {
          "data": {"values": [{}]},
          "mark": {"type": "rule", "strokeWidth": 3, "color": "#000000"},
          "encoding": {"y": {"datum": 0, "type": "quantitative", "axis": {"orient": "right", "values": [-20, 0, 20, 40, 60, 80], "tickSize": -15, "labelPadding": 30, "labelOffset": 8, "labelFontSize": 33, "labelExpr": "'' + datum.value", "title": "%", "titleAngle": 0, "titleX": 27.5, "titleY": 2, "titleAlign": "center", "titleBaseline": "middle", "titleFontSize": 28}}}
        },
        {
          "data": {"values": [{}]},
          "mark": {"type": "rule", "strokeWidth": 3, "color": "#000000"},
          "encoding": {"x": {"datum": 1975, "type": "quantitative"}, "x2": {"datum": 1976}, "y": {"datum": 100, "type": "quantitative", "axis": null}}
        },
        {
          "data": {"values": [{}]},
          "mark": {"type": "rule", "strokeWidth": 3, "color": "#000000"},
          "encoding": {"x": {"datum": 2020, "type": "quantitative"}, "x2": {"datum": 2021}, "y": {"datum": 100, "type": "quantitative", "axis": null}}
        },
        {
          "data": {"values": [{}]},
          "mark": {"type": "text", "text": "TIGHTENING STANDARDS", "align": "left", "baseline": "middle", "fontSize": 26.4, "fontWeight": "bold"},
          "encoding": {"x": {"datum": 1993.91, "type": "quantitative"}, "y": {"datum": 69.74, "type": "quantitative", "axis": null}}
        },
        {
          "data": {"values": [{}]},
          "mark": {"type": "text", "text": "EASING STANDARDS", "align": "left", "baseline": "middle", "fontSize": 25.6, "fontWeight": "bold"},
          "encoding": {"x": {"datum": 1982.92, "type": "quantitative"}, "y": {"datum": -22.9, "type": "quantitative", "axis": null}}
        }
      ]
    }
  ]
}
